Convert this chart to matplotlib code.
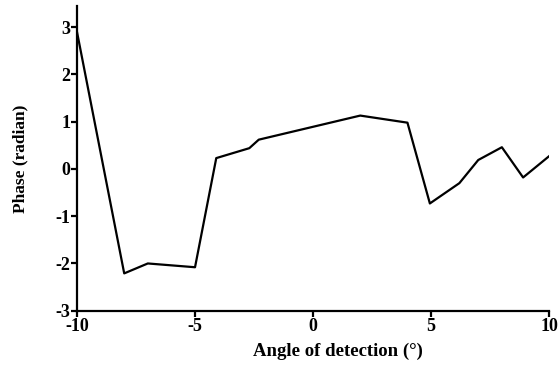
import matplotlib
matplotlib.use("Agg")
import matplotlib.pyplot as plt

# angle of detection (deg) and measured phase (radian)
angle = [-10, -8, -7, -5, -4.1, -2.7, -2.3, 2, 4, 4.95, 6.2, 7, 8, 8.9, 10]
phase = [2.9, -2.21, -2.0, -2.08, 0.23, 0.44, 0.62, 1.13, 0.98, -0.73, -0.3, 0.19, 0.46, -0.18, 0.27]

plt.rcParams['font.family'] = ['Liberation Serif', 'DejaVu Serif']
plt.rcParams['font.weight'] = 'bold'
plt.rcParams['axes.unicode_minus'] = False

fig = plt.figure(figsize=(5.58, 3.73), dpi=100)
ax = fig.add_axes([0.138, 0.167, 0.846, 0.817])
ax.plot(angle, phase, color='black', linewidth=1.6)

ax.set_xlim(-10, 10)
ax.set_ylim(-3, 3.45)
ax.set_xticks([-10, -5, 0, 5, 10])
ax.set_yticks([-3, -2, -1, 0, 1, 2, 3])
ax.spines['top'].set_visible(False)
ax.spines['right'].set_visible(False)
ax.spines['left'].set_linewidth(1.6)
ax.spines['bottom'].set_linewidth(1.6)
ax.tick_params(width=1.6, length=4, labelsize=13, pad=1)
ax.set_xlabel('Angle of detection (°)', fontsize=13.5, fontweight='bold')
ax.xaxis.set_label_coords(0.552, -0.105)
ax.set_ylabel('Phase (radian)', fontsize=12.5, fontweight='bold')
ax.yaxis.set_label_coords(-0.104, 0.5)

fig.savefig('out.png', dpi=100)
